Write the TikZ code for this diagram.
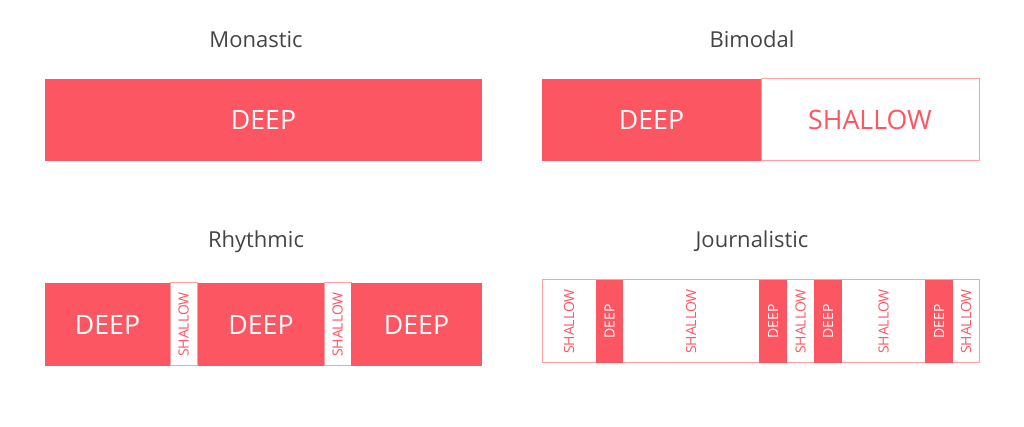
\documentclass[tikz,border=0pt]{standalone}
\usepackage{fontspec}
\setmainfont{Open Sans}
\definecolor{deepred}{RGB}{252,86,99}
\definecolor{shallowline}{RGB}{255,160,166}
\definecolor{titlegray}{RGB}{68,68,68}
\tikzset{
  seg/.style={inner sep=0pt, outer sep=0pt},
  deepseg/.style={seg, fill=deepred, text=white},
  shallowseg/.style={seg, draw=shallowline, line width=0.75pt, fill=white, text=deepred},
  jshallowseg/.style={seg, text=deepred},
  bigtext/.style={font=\fontsize{20}{20}\selectfont},
  smalltext/.style={font=\fontsize{10.5}{10.5}\selectfont, rotate=90},
  boxtitle/.style={text=titlegray, font=\fontsize{16.5}{16.5}\selectfont, anchor=base},
}
\begin{document}
\begin{tikzpicture}[x=0.75pt,y=0.75pt,yscale=-1,xscale=1]
  \useasboundingbox (0,0) rectangle (1024,427);
  % titles
  \node[boxtitle] (tmonastic) at (256,48) {Monastic};
  \node[boxtitle] (tbimodal) at (752,48) {Bimodal};
  \node[boxtitle] (trhythmic) at (256,248) {Rhythmic};
  \node[boxtitle] (tjournal) at (752,248) {Journalistic};
  % monastic
  \node[deepseg, bigtext, minimum width=437*0.75pt, minimum height=82*0.75pt] (monastic) at (263.5,120) {DEEP};
  % bimodal
  \node[deepseg, bigtext, minimum width=219*0.75pt, minimum height=82*0.75pt] (bideep) at (651.5,120) {DEEP};
  \node[shallowseg, bigtext, minimum width=218*0.75pt, minimum height=82*0.75pt] (bishallow) at (870,120) {SHALLOW};
  % rhythmic
  \def\deepkind{deep}
  \foreach \xa/\xb/\kind/\txt [count=\i] in {45/170/deep/DEEP, 170/197/shallow/SHALLOW, 198/324/deep/DEEP, 324/351/shallow/SHALLOW, 351/482/deep/DEEP}{
    \ifx\kind\deepkind
      \node[deepseg, bigtext, minimum width={(\xb-\xa)*0.75pt}, minimum height=83*0.75pt] (rhythm-\i) at ({(\xa+\xb)/2},324.5) {\txt};
    \else
      \node[shallowseg, smalltext, minimum width=83*0.75pt, minimum height={(\xb-\xa)*0.75pt}] (rhythm-\i) at ({(\xa+\xb)/2},324.5) {\txt};
    \fi
  }
  % journalistic
  \node[seg, draw=shallowline, line width=0.75pt, minimum width=437*0.75pt, minimum height=83*0.75pt] (journframe) at (760.5,321.5) {};
  \foreach \xa/\xb/\kind/\txt [count=\i] in {542/596/jshallowseg/SHALLOW, 596/623/deepseg/DEEP, 623/759/jshallowseg/SHALLOW, 759/787/deepseg/DEEP, 787/814/jshallowseg/SHALLOW, 814/842/deepseg/DEEP, 842/925/jshallowseg/SHALLOW, 925/953/deepseg/DEEP, 953/979/jshallowseg/SHALLOW}{
    \node[\kind, smalltext, minimum width=83*0.75pt, minimum height={(\xb-\xa)*0.75pt}] (journ-\i) at ({(\xa+\xb)/2},321.5) {\txt};
  }
\end{tikzpicture}
\end{document}
